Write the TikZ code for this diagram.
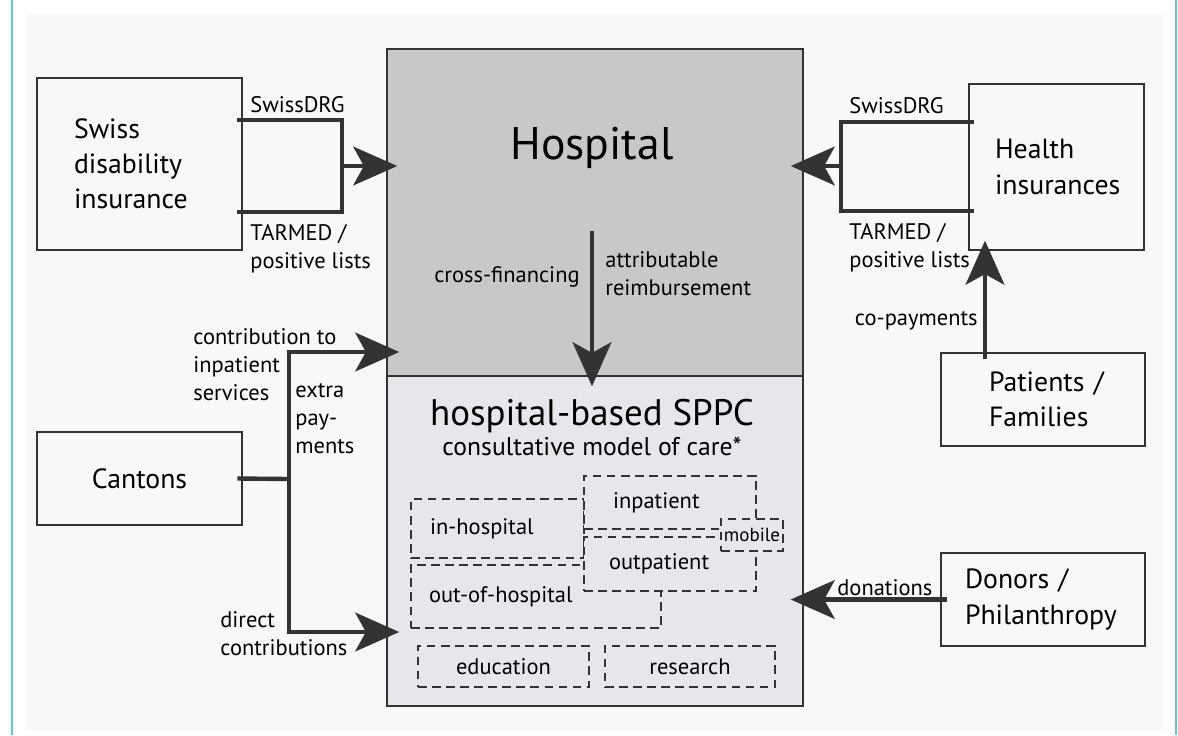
\documentclass[tikz,border=0pt]{standalone}
\usepackage{fontspec}
\setmainfont{PT Sans}
\usetikzlibrary{arrows.meta,positioning}
\definecolor{hospgray}{HTML}{C8C8C8}
\definecolor{sppcgray}{HTML}{E6E6EB}
\definecolor{bggray}{HTML}{F8F8F8}
\definecolor{linegray}{HTML}{333333}
\definecolor{framecyan}{HTML}{5BC8DC}

\begin{document}
\begin{tikzpicture}[x=0.02cm,y=-0.02cm,
    payer/.style={draw=linegray,line width=0.8pt,align=left,inner sep=0pt,
      font=\fontsize{15.8}{20}\selectfont},
    hosp box/.style={draw=linegray,line width=0.9pt,inner sep=0pt},
    part/.style={draw=linegray,line width=0.7pt,dash pattern=on 5pt off 3pt,
      fill=sppcgray,inner ysep=0pt,align=left,font=\fontsize{12.8}{15}\selectfont},
    lbl/.style={inner sep=0pt,align=left,font=\fontsize{12.8}{15.9}\selectfont},
    money/.style={draw=linegray,line width=2.5pt},
    flow/.style={money,-{Stealth[length=25pt,width=22pt,inset=6pt]}}
  ]
  \useasboundingbox (0,0) rectangle (1178,735);
  % page background and frame
  \fill[bggray] (27,15) rectangle (1163,730);
  \draw[framecyan,line width=1.2pt] (12,0) -- (12,735);
  \draw[framecyan,line width=1.2pt] (1176,0) -- (1176,735);

  % hospital and its SPPC part
  \node[hosp box,fill=hospgray,minimum width=8.32cm,minimum height=6.54cm] (hosp) at (595,212.5) {};
  \node[hosp box,fill=sppcgray,minimum width=8.32cm,minimum height=6.6cm] (sppc) at (595,541) {};
  \node[anchor=base,font=\fontsize{26}{30}\selectfont] (hosptitle) at (592,159) {Hospital};
  \node[anchor=base,font=\fontsize{21}{24}\selectfont] (sppctitle) at (592,425) {hospital-based SPPC};
  \node[anchor=base,font=\fontsize{14.6}{17}\selectfont] (sppcsub) at (592,455) {consultative model of care*};

  % payers, text set from the left
  \node[payer,minimum width=4.1cm,minimum height=3.44cm,text width=2.62cm] (sdi) at (139.5,164) {Swiss\\disability\\insurance};
  \node[payer,minimum width=3.5cm,minimum height=3.32cm,text width=2.46cm] (hi) at (1056.5,167) {Health\\insurances};
  \node[payer,minimum width=4.08cm,minimum height=1.86cm,text width=2.16cm] (pat) at (1043,399.5) {Patients~/\\Families};
  \node[payer,minimum width=4.08cm,minimum height=1.86cm,text width=3.12cm] (don) at (1043,599.5) {Donors~/\\Philanthropy};
  \node[payer,minimum width=4.1cm,minimum height=1.86cm] (can) at (139.5,478.5) {Cantons};

  % settings of care, overlapping ones drawn last
  \node[part,minimum height=1.18cm,inner xsep=0.38cm,text width=2.70cm] (inhosp) at (497.5,528.5) {in-hospital};
  \node[part,minimum height=1.26cm,inner xsep=0.36cm,text width=4.28cm] (outhosp) at (536,596.5) {out-of-hospital};
  \node[part,minimum height=1.06cm,inner xsep=0.58cm,text width=2.28cm] (inpat) at (670,502.5) {inpatient};
  \node[part,minimum height=1.08cm,inner xsep=0.50cm,text width=2.44cm] (outpat) at (670,564) {outpatient};
  \node[part,minimum width=1.24cm,minimum height=0.64cm,inner xsep=0pt,font=\fontsize{10.8}{12}\selectfont] (mobile) at (752,535) {mobile};
  \node[part,minimum width=3.42cm,minimum height=0.82cm] (edu) at (503.5,666.5) {education};
  \node[part,minimum width=3.40cm,minimum height=0.82cm] (res) at (690,666.5) {research};

  % joints of the payment lines
  \coordinate (sdijoin) at (342,166);
  \coordinate (hijoin) at (841,166);
  \coordinate (canjoin) at (289,479);
  \coordinate (inrow) at (289,352);
  \coordinate (directrow) at (289,632);
  \coordinate (copay) at (985,300);
  \coordinate (cross) at (592,231);

  % insurers
  \draw[money] ([xshift=-3pt,yshift=0.88cm]sdi.east) -| (sdijoin) |- ([xshift=-3pt,yshift=-0.96cm]sdi.east);
  \draw[flow] (sdijoin) -- ([xshift=0.22cm]hosp.west |- sdijoin);
  \draw[money] ([xshift=3pt,yshift=0.9cm]hi.west) -| (hijoin) |- ([xshift=3pt,yshift=-0.88cm]hi.west);
  \draw[flow] (hijoin) -- ([xshift=-0.26cm]hosp.east |- hijoin);
  \draw[flow] ([yshift=-0.14cm]pat.north -| copay) -- ([yshift=0.2cm]hi.south -| copay);

  % cantons
  \draw[money] ([xshift=-3pt]can.east) -- (canjoin);
  \draw[flow] (canjoin) -- (inrow) -- ([xshift=0.26cm]hosp.west |- inrow);
  \draw[flow] (canjoin) -- (directrow) -- ([xshift=0.26cm]sppc.west |- directrow);

  % donors, hospital to SPPC
  \draw[flow] ([xshift=0.14cm]don.west) -- ([xshift=-0.26cm]sppc.east |- don.west);
  \draw[flow] (cross) -- ([yshift=-0.22cm]sppc.north -| cross);

  % labels (base = last line)
  \node[lbl,anchor=base west] (drgl) at (250,112) {SwissDRG};
  \node[lbl,anchor=base west] (tarl) at (250,268) {TARMED /\\positive lists};
  \node[lbl,anchor=base west] (drgr) at (849,113) {SwissDRG};
  \node[lbl,anchor=base west] (tarr) at (849,267) {TARMED /\\positive lists};
  \node[lbl,anchor=base east] (copaylbl) at (978,325) {co-payments};
  \node[lbl,anchor=base west] (donlbl) at (837,595) {donations};
  \node[lbl,anchor=base west] (contrib) at (193,400) {contribution to\\inpatient\\services};
  \node[lbl,anchor=base west] (extra) at (295,453) {extra\\pay-\\ments};
  \node[lbl,anchor=base west] (direct) at (220,655) {direct\\contributions};
  \node[lbl,anchor=base east] (crossfin) at (580,282) {cross-financing};
  \node[lbl,anchor=base west] (attrib) at (605,295) {attributable\\reimbursement};
\end{tikzpicture}
\end{document}
